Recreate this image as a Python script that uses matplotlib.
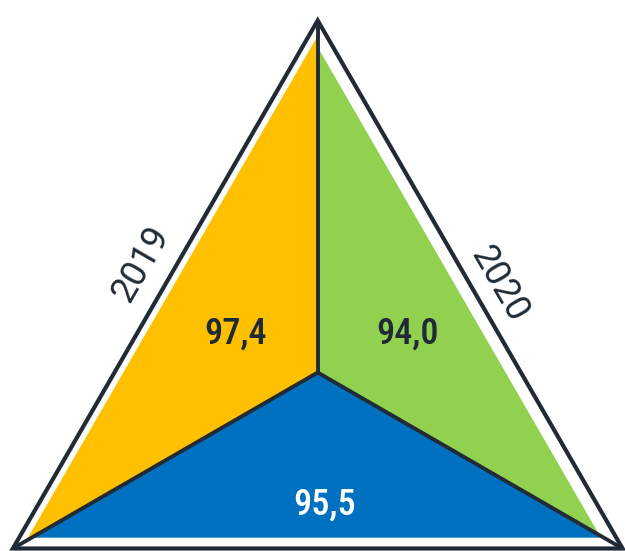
import numpy as np
import matplotlib
matplotlib.use("Agg")
import matplotlib.pyplot as plt
from matplotlib.patches import Polygon
from matplotlib import font_manager as fm

# ---- data ----
year_labels = ["2019", "2020"]
sector_names = ["yellow", "blue", "green"]
sector_values = [97.4, 95.5, 94.0]          # yellow (left), blue (bottom), green (right)
value_labels = ["97,4", "95,5", "94,0"]

# ---- style ----
sector_colors = ["#FFC000", "#0070C0", "#92D050"]
label_colors = ["#1F2A36", "#FFFFFF", "#1F2A36"]
dark = "#212B36"
R = 352.0                      # outer triangle circumradius (px-like data units)
r_min, r_max = -4.0, 102.0     # radial scale
axis_angles = np.deg2rad([90, 210, 330])
cx, cy = 317.7, 372.5          # centre position in the canvas
W, H = 625, 551

installed = {f.name for f in fm.fontManager.ttflist}
cond_candidates = ["Roboto Condensed", "DejaVu Sans Condensed", "Liberation Sans Narrow",
                   "Open Sans Condensed", "Noto Sans Display", "Roboto"]
cond_font = next((c for c in cond_candidates if c in installed), "DejaVu Sans")
condensed_faces = [f for f in fm.fontManager.ttflist
                   if f.name == cond_font and f.stretch in ("condensed", "semi-condensed")]

fig = plt.figure(figsize=(W / 100, H / 100), dpi=100)
ax = fig.add_axes([0, 0, 1, 1])
ax.set_xlim(-cx, W - cx)
ax.set_ylim(-(H - cy), cy)
ax.set_aspect("equal")
ax.axis("off")

unit = np.column_stack([np.cos(axis_angles), np.sin(axis_angles)])
outer = R * unit

for i, (val, col) in enumerate(zip(sector_values, sector_colors)):
    s = (val - r_min) / (r_max - r_min)
    a, b = unit[i], unit[(i + 1) % 3]
    tri = np.array([[0, 0], R * s * a, R * s * b])
    ax.add_patch(Polygon(tri, closed=True, facecolor=col, edgecolor="none",
                         zorder=1))

ax.add_patch(Polygon(outer, closed=True, fill=False, edgecolor=dark,
                     linewidth=3.0, joinstyle="miter", zorder=3))
for v in outer:
    ax.plot([0, v[0]], [0, v[1]], color=dark, linewidth=2.8,
            solid_capstyle="butt", zorder=2)

label_pos = [(-81.7, 28.5), (6.6, -142.5), (90.3, 28.5)]
num_kw = dict(family=[cond_font, "DejaVu Sans"], fontweight="medium")
if condensed_faces:
    num_kw["fontstretch"] = "condensed"
    num_size = 26
elif cond_font == "Roboto":
    num_size = 24
else:
    num_size = 26
for txt, (x, y), c in zip(value_labels, label_pos, label_colors):
    ax.text(x, y, txt, ha="center", va="baseline", fontsize=num_size, color=c,
            zorder=4, **num_kw)

year_pos = [(-176.7, 108.5), (181.3, 88.5)]
year_rot = [60, -60]
for txt, (x, y), rot in zip(year_labels, year_pos, year_rot):
    ax.text(x, y, txt, ha="center", va="center", rotation=rot,
            rotation_mode="anchor", fontsize=26, color=dark,
            family=["Roboto", "DejaVu Sans"], fontweight="normal", zorder=4)

fig.savefig("out.png", dpi=100)
